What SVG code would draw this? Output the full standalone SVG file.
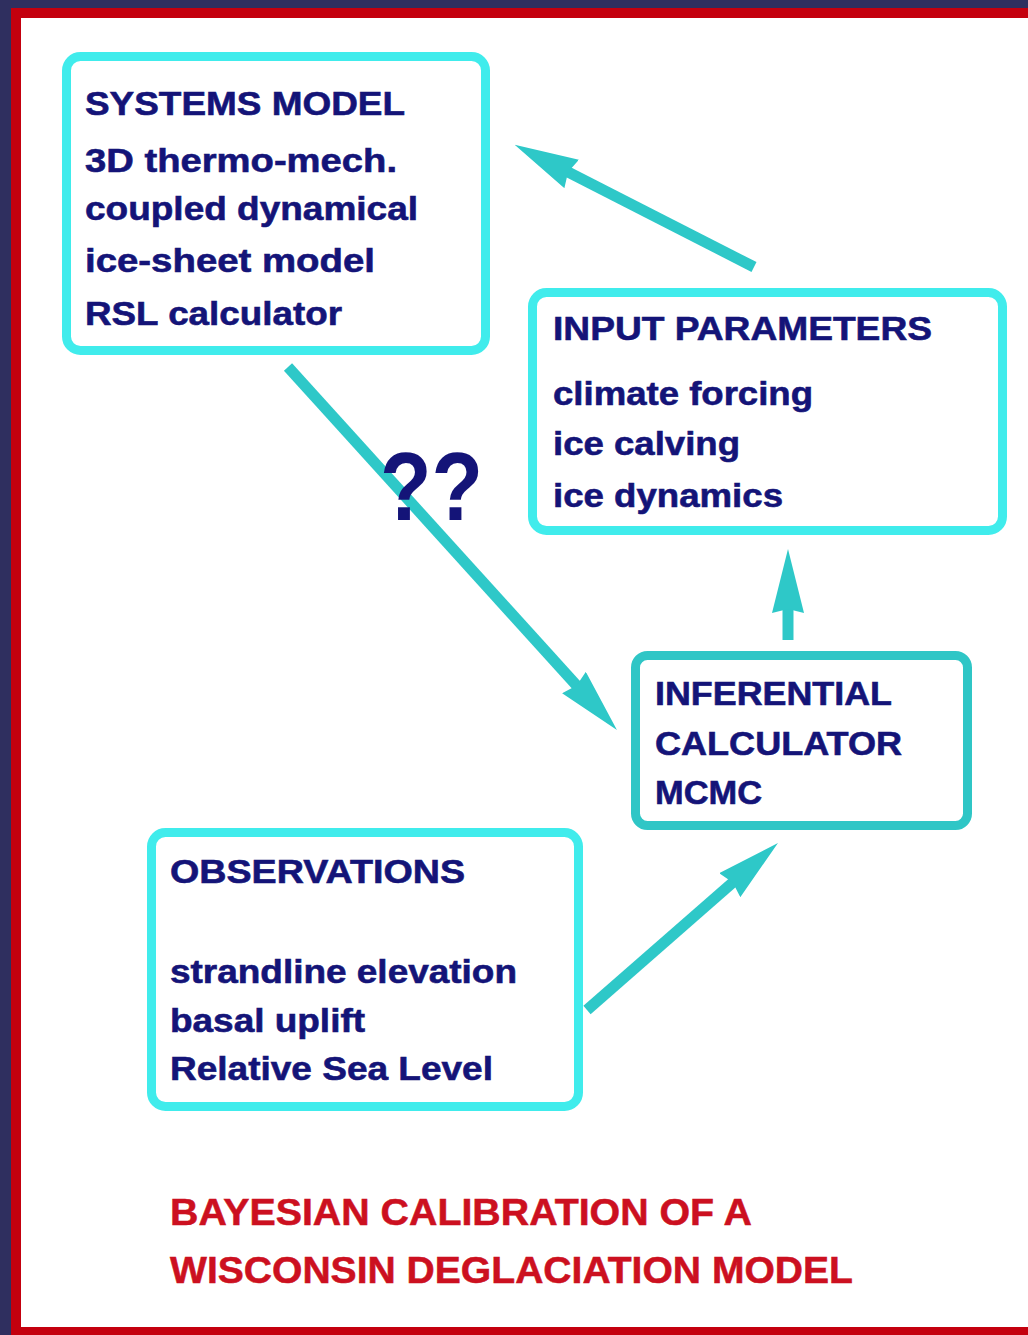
<svg xmlns="http://www.w3.org/2000/svg" width="1028" height="1335" viewBox="0 0 1028 1335">
<defs>
<style>
.box{fill:#ffffff;stroke:#40ecec;stroke-width:9}
.box.dark{stroke:#2fc6c6}
.t{font-family:"Liberation Sans",Arial,sans-serif;font-weight:bold;font-size:34px;fill:#141478;stroke:#141478;stroke-width:0.6}
.title{font-family:"Liberation Sans",Arial,sans-serif;font-weight:bold;font-size:36px;fill:#cc1020;stroke:#cc1020;stroke-width:0.5}
.q{font-family:"Liberation Sans",Arial,sans-serif;font-weight:bold;font-size:96px;fill:#141478}
.conn{stroke:#2ec8c8;stroke-width:11;fill:none;marker-end:url(#ah)}
</style>
<marker id="ah" viewBox="0 0 64 32" markerWidth="64" markerHeight="32" refX="6" refY="16" orient="auto" markerUnits="userSpaceOnUse">
<path d="M0,0 L64,16 L0,32 L4,16 Z" fill="#2ec8c8"/>
</marker>
</defs>
<rect x="0" y="0" width="1028" height="1335" fill="#2f2f5f"/>
<rect x="11" y="8" width="1017" height="1327" fill="#c4000e"/>
<rect x="21" y="18" width="1007" height="1309" fill="#ffffff"/>

<g id="connectors">
<line class="conn" x1="754" y1="267" x2="566.3" y2="171.2"/>
<line class="conn" x1="288" y1="367" x2="578" y2="687"/>
<line class="conn" x1="788" y1="640" x2="788" y2="607"/>
<line class="conn" x1="587" y1="1010" x2="734.3" y2="881.2"/>
</g>

<g id="systems-model">
<rect class="box" x="66.5" y="56.5" width="419" height="294" rx="14"/>
<text class="t" x="85" y="115" textLength="320" lengthAdjust="spacingAndGlyphs">SYSTEMS MODEL</text>
<text class="t" x="85" y="172" textLength="312" lengthAdjust="spacingAndGlyphs">3D thermo-mech.</text>
<text class="t" x="85" y="220" textLength="333" lengthAdjust="spacingAndGlyphs">coupled dynamical</text>
<text class="t" x="85" y="272" textLength="290" lengthAdjust="spacingAndGlyphs">ice-sheet model</text>
<text class="t" x="85" y="325" textLength="257" lengthAdjust="spacingAndGlyphs">RSL calculator</text>
</g>

<g id="input-parameters">
<rect class="box" x="532.5" y="292.5" width="470" height="238" rx="14"/>
<text class="t" x="553" y="340" textLength="379" lengthAdjust="spacingAndGlyphs">INPUT PARAMETERS</text>
<text class="t" x="553" y="405" textLength="260" lengthAdjust="spacingAndGlyphs">climate forcing</text>
<text class="t" x="553" y="455" textLength="187" lengthAdjust="spacingAndGlyphs">ice calving</text>
<text class="t" x="553" y="507" textLength="230" lengthAdjust="spacingAndGlyphs">ice dynamics</text>
</g>

<g id="inferential-calculator">
<rect class="box dark" x="635.5" y="655.5" width="332" height="170" rx="12"/>
<text class="t" x="655" y="705" textLength="237" lengthAdjust="spacingAndGlyphs">INFERENTIAL</text>
<text class="t" x="655" y="755" textLength="247" lengthAdjust="spacingAndGlyphs">CALCULATOR</text>
<text class="t" x="655" y="804" textLength="107" lengthAdjust="spacingAndGlyphs">MCMC</text>
</g>

<g id="observations">
<rect class="box" x="151.5" y="832.5" width="427" height="274" rx="14"/>
<text class="t" x="170" y="883" textLength="295" lengthAdjust="spacingAndGlyphs">OBSERVATIONS</text>
<text class="t" x="170" y="983" textLength="347" lengthAdjust="spacingAndGlyphs">strandline elevation</text>
<text class="t" x="170" y="1032" textLength="195" lengthAdjust="spacingAndGlyphs">basal uplift</text>
<text class="t" x="170" y="1080" textLength="323" lengthAdjust="spacingAndGlyphs">Relative Sea Level</text>
</g>

<g id="question-label">
<text class="q" x="380" y="520" textLength="103" lengthAdjust="spacingAndGlyphs">??</text>
</g>

<g id="title">
<text class="title" x="170" y="1225" textLength="582" lengthAdjust="spacingAndGlyphs">BAYESIAN CALIBRATION OF A</text>
<text class="title" x="170" y="1283" textLength="683" lengthAdjust="spacingAndGlyphs">WISCONSIN DEGLACIATION MODEL</text>
</g>
</svg>
